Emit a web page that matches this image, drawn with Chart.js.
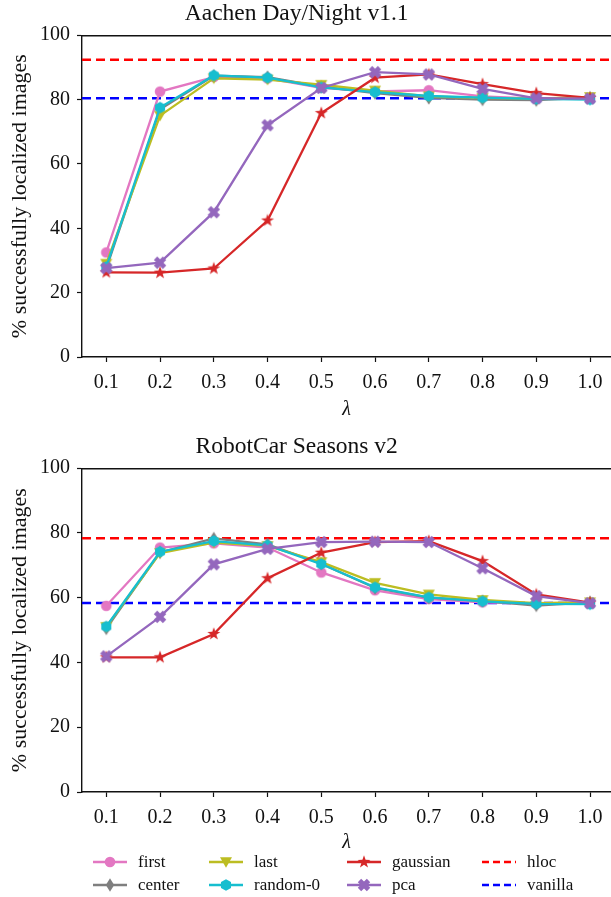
<!DOCTYPE html>
<html>

<head>
	<meta charset="utf-8">
	<title>Lambda sweep</title>
	<script src="https://cdn.jsdelivr.net/npm/chart.js@4.4.1/dist/chart.umd.min.js"></script>
	<style>
		body { margin: 0; background: #fff; }
		#page { position: relative; width: 611px; height: 897px; overflow: hidden; }
		#page canvas.plot { position: absolute; left: 0; }
		#legend {
			position: absolute; left: 93px; top: 850px;
			display: grid; grid-template-columns: 116px 138px 135px auto;
			grid-auto-flow: column; grid-template-rows: 23px 23px;
			font-family: 'Liberation Serif', serif; font-size: 17px; color: #111;
		}
		#legend div { display: flex; align-items: center; }
		#legend canvas { margin-right: 11px; }
	</style>
</head>

<body>
	<div id="page">
		<canvas id="c1" class="plot" width="611" height="430" style="top:0"></canvas>
		<canvas id="c2" class="plot" width="611" height="440" style="top:425px"></canvas>
		<div id="legend"></div>
	</div>

	<script>
		const lambdas = [0.1, 0.2, 0.3, 0.4, 0.5, 0.6, 0.7, 0.8, 0.9, 1.0];
		const yTicks = [0, 20, 40, 60, 80, 100];

		// Aachen Day/Night v1.1
		const aachenFirst = [32.5, 82.5, 87.0, 86.6, 83.6, 82.5, 82.9, 81.0, 80.3, 80.3];
		const aachenCenter = [27.5, 77.0, 87.4, 87.0, 84.0, 82.0, 80.5, 80.0, 79.8, 80.6];
		const aachenLast = [29.0, 75.0, 86.6, 86.2, 84.6, 82.8, 81.0, 80.5, 80.3, 80.8];
		const aachenRandom0 = [28.0, 77.5, 87.5, 86.8, 83.8, 82.3, 81.1, 80.6, 80.2, 80.0];
		const aachenGaussian = [26.3, 26.2, 27.5, 42.4, 75.8, 86.8, 87.8, 84.8, 82.0, 80.5];
		const aachenPca = [27.6, 29.3, 45.0, 72.0, 83.6, 88.5, 87.8, 83.3, 80.4, 80.3];
		const aachenHloc = 92.4;
		const aachenVanilla = 80.4;

		// RobotCar Seasons v2
		const rcFirst = [57.5, 75.5, 76.8, 75.5, 67.8, 62.3, 59.6, 58.6, 58.2, 58.5];
		const rcCenter = [50.5, 74.0, 78.3, 76.5, 70.5, 63.0, 60.0, 59.0, 57.6, 58.6];
		const rcLast = [51.0, 73.8, 77.0, 76.0, 71.0, 64.6, 61.0, 59.3, 58.3, 58.6];
		const rcRandom0 = [51.1, 74.2, 77.5, 76.2, 70.4, 63.2, 60.1, 58.9, 58.1, 58.0];
		const rcGaussian = [41.6, 41.6, 48.8, 66.0, 73.9, 77.2, 77.5, 71.3, 61.0, 58.5];
		const rcPca = [41.9, 54.1, 70.3, 75.1, 77.2, 77.3, 77.2, 69.1, 60.5, 58.3];
		const rcHloc = 78.4;
		const rcVanilla = 58.4;

		const xMin = 0.0548, xMax = 1.039;
		const FONT = "'Liberation Serif', serif";

		const methods = [
			{ name: 'first', color: '#e377c2', shape: 'circle' },
			{ name: 'center', color: '#7f7f7f', shape: 'diamond' },
			{ name: 'last', color: '#bcbd22', shape: 'triDown' },
			{ name: 'random-0', color: '#17becf', shape: 'hexagon' },
			{ name: 'gaussian', color: '#d62728', shape: 'star' },
			{ name: 'pca', color: '#9467bd', shape: 'xFilled' }
		];
		const refs = [
			{ name: 'hloc', color: '#ff0000' },
			{ name: 'vanilla', color: '#0000ff' }
		];

		function shapePath(g, shape) {
			g.beginPath();
			if (shape == 'circle') {
				g.arc(0, 0, 5.3, 0, Math.PI * 2);
				return;
			}
			let pts = [];
			if (shape == 'diamond') {
				pts = [[0, -6.8], [4.2, 0], [0, 6.8], [-4.2, 0]];
			} else if (shape == 'triDown') {
				pts = [[-6, -4.8], [6, -4.8], [0, 5.8]];
			} else if (shape == 'hexagon') {
				for (let k = 0; k < 6; k++) {
					let a = -Math.PI / 2 + k * Math.PI / 3;
					pts.push([5.8 * Math.cos(a), 5.8 * Math.sin(a)]);
				}
			} else if (shape == 'star') {
				for (let k = 0; k < 10; k++) {
					let a = -Math.PI / 2 + k * Math.PI / 5;
					let r = k % 2 ? 2.7 : 6.8;
					pts.push([r * Math.cos(a), r * Math.sin(a)]);
				}
			} else if (shape == 'xFilled') {
				const s = 6.4, w = 2.4;
				const plus = [[-w, -s], [w, -s], [w, -w], [s, -w], [s, w], [w, w], [w, s], [-w, s], [-w, w], [-s, w], [-s, -w], [-w, -w]];
				const c = Math.SQRT1_2;
				pts = plus.map(p => [(p[0] - p[1]) * c, (p[0] + p[1]) * c]);
			}
			g.moveTo(pts[0][0], pts[0][1]);
			for (let i = 1; i < pts.length; i++) g.lineTo(pts[i][0], pts[i][1]);
			g.closePath();
		}

		function makeMarker(shape, color) {
			const c = document.createElement('canvas');
			c.width = 16; c.height = 16;
			const g = c.getContext('2d');
			g.translate(8, 8);
			g.fillStyle = color;
			shapePath(g, shape);
			g.fill();
			return c;
		}

		methods.forEach(m => m.marker = makeMarker(m.shape, m.color));

		function xy(vals) {
			return vals.map((v, i) => ({ x: lambdas[i], y: v }));
		}

		function buildChart(id, title, series, hloc, vanilla, padTop, titlePad) {
			let datasets = [];
			refs.forEach((r, i) => {
				let v = i == 0 ? hloc : vanilla;
				datasets.push({
					label: r.name,
					data: [{ x: xMin, y: v }, { x: xMax, y: v }],
					borderColor: r.color,
					borderWidth: 2.5,
					borderDash: [9, 5],
					pointRadius: 0,
					order: 20 - i
				});
			});
			methods.forEach((m, i) => {
				datasets.push({
					label: m.name,
					data: xy(series[i]),
					borderColor: m.color,
					backgroundColor: m.color,
					borderWidth: 2.3,
					pointStyle: m.marker,
					pointRadius: 5,
					order: 10 - i
				});
			});

			return new Chart(document.getElementById(id), {
				type: 'line',
				data: { datasets: datasets },
				options: {
					responsive: false,
					animation: false,
					events: [],
					layout: { autoPadding: false, padding: { top: padTop, left: 0, right: 0, bottom: 0 } },
					plugins: {
						legend: { display: false },
						tooltip: { enabled: false },
						title: {
							display: true,
							// trailing spaces nudge the centred title a bit left, like the original
							text: title + '   ',
							color: '#111',
							font: { family: FONT, size: 23.5, weight: 'normal' },
							padding: { top: 0, bottom: 7 }
						}
					},
					scales: {
						x: {
							type: 'linear',
							min: xMin,
							max: xMax,
							afterBuildTicks: s => { s.ticks = lambdas.map(v => ({ value: v })); },
							afterFit: s => { s.height = 73; s.paddingLeft = 0; s.paddingRight = 0; },
							ticks: {
								color: '#111',
								padding: 9,
								maxRotation: 0,
								font: { family: FONT, size: 20 },
								callback: v => v.toFixed(1)
							},
							grid: { drawOnChartArea: false, tickLength: 5, color: '#111', tickWidth: 1.2 },
							border: { color: '#111', width: 1.4 },
							title: {
								display: true,
								text: 'λ',
								color: '#111',
								font: { family: FONT, size: 20, style: 'italic' },
								padding: { top: 0, bottom: titlePad }
							}
						},
						xTop: {
							type: 'linear',
							position: 'top',
							min: xMin,
							max: xMax,
							afterFit: s => { s.height = 0; s.paddingLeft = 0; s.paddingRight = 0; },
							ticks: { display: false },
							grid: { display: false, drawTicks: false },
							border: { color: '#111', width: 1.4 }
						},
						y: {
							min: 0,
							max: 100,
							afterBuildTicks: s => { s.ticks = yTicks.map(v => ({ value: v })); },
							afterFit: s => { s.width = 82; },
							ticks: {
								color: '#111',
								padding: 7,
								font: { family: FONT, size: 20 }
							},
							grid: { drawOnChartArea: false, tickLength: 5, color: '#111', tickWidth: 1.2 },
							border: { color: '#111', width: 1.4 },
							title: {
								display: true,
								text: '% successfully localized images',
								color: '#111',
								font: { family: FONT, size: 22 },
								padding: { top: 7, bottom: 0 }
							}
						}
					}
				}
			});
		}

		buildChart('c1', 'Aachen Day/Night v1.1',
			[aachenFirst, aachenCenter, aachenLast, aachenRandom0, aachenGaussian, aachenPca],
			aachenHloc, aachenVanilla, 0, 8);
		buildChart('c2', 'RobotCar Seasons v2',
			[rcFirst, rcCenter, rcLast, rcRandom0, rcGaussian, rcPca],
			rcHloc, rcVanilla, 8, 10);

		// legend, column by column like the original
		function LegendItem(name, color, marker) {
			const div = document.createElement('div');
			const c = document.createElement('canvas');
			c.width = 34; c.height = 18;
			const g = c.getContext('2d');
			g.strokeStyle = color;
			g.lineWidth = 2.5;
			if (!marker) g.setLineDash([7, 4]);
			g.beginPath();
			g.moveTo(0, 9); g.lineTo(34, 9);
			g.stroke();
			if (marker) g.drawImage(marker, 9, 1);
			div.appendChild(c);
			const span = document.createElement('span');
			span.textContent = name;
			div.appendChild(span);
			return div;
		}

		const legendEl = document.getElementById('legend');
		const order = ['first', 'center', 'last', 'random-0', 'gaussian', 'pca', 'hloc', 'vanilla'];
		order.forEach(n => {
			const m = methods.find(o => o.name == n);
			const r = refs.find(o => o.name == n);
			legendEl.appendChild(m ? LegendItem(n, m.color, m.marker) : LegendItem(n, r.color, null));
		});
	</script>
</body>

</html>
